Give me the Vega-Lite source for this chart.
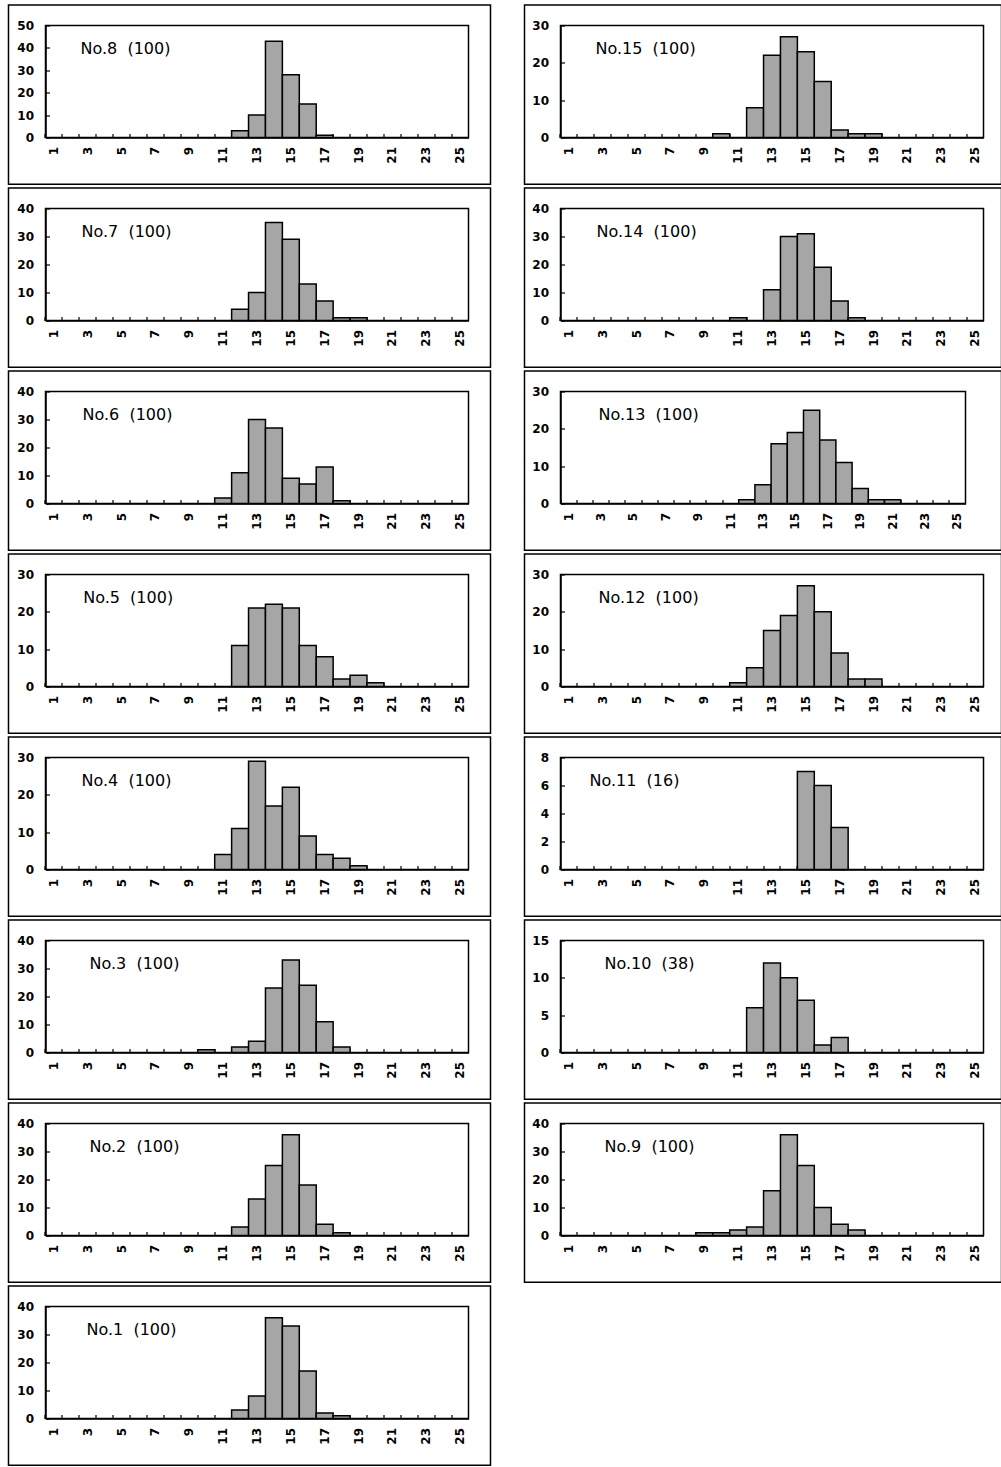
{
  "$schema": "https://vega.github.io/schema/vega-lite/v6.json",
  "padding": {"left": 6.5, "top": 3.5, "right": 0, "bottom": 0},
  "data": {"values": [
    {"p":"No.8","b":12,"n":3},{"p":"No.8","b":13,"n":10},{"p":"No.8","b":14,"n":43},{"p":"No.8","b":15,"n":28},{"p":"No.8","b":16,"n":15},{"p":"No.8","b":17,"n":1},
    {"p":"No.7","b":12,"n":4},{"p":"No.7","b":13,"n":10},{"p":"No.7","b":14,"n":35},{"p":"No.7","b":15,"n":29},{"p":"No.7","b":16,"n":13},{"p":"No.7","b":17,"n":7},{"p":"No.7","b":18,"n":1},{"p":"No.7","b":19,"n":1},
    {"p":"No.6","b":11,"n":2},{"p":"No.6","b":12,"n":11},{"p":"No.6","b":13,"n":30},{"p":"No.6","b":14,"n":27},{"p":"No.6","b":15,"n":9},{"p":"No.6","b":16,"n":7},{"p":"No.6","b":17,"n":13},{"p":"No.6","b":18,"n":1},
    {"p":"No.5","b":12,"n":11},{"p":"No.5","b":13,"n":21},{"p":"No.5","b":14,"n":22},{"p":"No.5","b":15,"n":21},{"p":"No.5","b":16,"n":11},{"p":"No.5","b":17,"n":8},{"p":"No.5","b":18,"n":2},{"p":"No.5","b":19,"n":3},{"p":"No.5","b":20,"n":1},
    {"p":"No.4","b":11,"n":4},{"p":"No.4","b":12,"n":11},{"p":"No.4","b":13,"n":29},{"p":"No.4","b":14,"n":17},{"p":"No.4","b":15,"n":22},{"p":"No.4","b":16,"n":9},{"p":"No.4","b":17,"n":4},{"p":"No.4","b":18,"n":3},{"p":"No.4","b":19,"n":1},
    {"p":"No.3","b":10,"n":1},{"p":"No.3","b":12,"n":2},{"p":"No.3","b":13,"n":4},{"p":"No.3","b":14,"n":23},{"p":"No.3","b":15,"n":33},{"p":"No.3","b":16,"n":24},{"p":"No.3","b":17,"n":11},{"p":"No.3","b":18,"n":2},
    {"p":"No.2","b":12,"n":3},{"p":"No.2","b":13,"n":13},{"p":"No.2","b":14,"n":25},{"p":"No.2","b":15,"n":36},{"p":"No.2","b":16,"n":18},{"p":"No.2","b":17,"n":4},{"p":"No.2","b":18,"n":1},
    {"p":"No.1","b":12,"n":3},{"p":"No.1","b":13,"n":8},{"p":"No.1","b":14,"n":36},{"p":"No.1","b":15,"n":33},{"p":"No.1","b":16,"n":17},{"p":"No.1","b":17,"n":2},{"p":"No.1","b":18,"n":1},
    {"p":"No.15","b":10,"n":1},{"p":"No.15","b":12,"n":8},{"p":"No.15","b":13,"n":22},{"p":"No.15","b":14,"n":27},{"p":"No.15","b":15,"n":23},{"p":"No.15","b":16,"n":15},{"p":"No.15","b":17,"n":2},{"p":"No.15","b":18,"n":1},{"p":"No.15","b":19,"n":1},
    {"p":"No.14","b":11,"n":1},{"p":"No.14","b":13,"n":11},{"p":"No.14","b":14,"n":30},{"p":"No.14","b":15,"n":31},{"p":"No.14","b":16,"n":19},{"p":"No.14","b":17,"n":7},{"p":"No.14","b":18,"n":1},
    {"p":"No.13","b":12,"n":1},{"p":"No.13","b":13,"n":5},{"p":"No.13","b":14,"n":16},{"p":"No.13","b":15,"n":19},{"p":"No.13","b":16,"n":25},{"p":"No.13","b":17,"n":17},{"p":"No.13","b":18,"n":11},{"p":"No.13","b":19,"n":4},{"p":"No.13","b":20,"n":1},{"p":"No.13","b":21,"n":1},
    {"p":"No.12","b":11,"n":1},{"p":"No.12","b":12,"n":5},{"p":"No.12","b":13,"n":15},{"p":"No.12","b":14,"n":19},{"p":"No.12","b":15,"n":27},{"p":"No.12","b":16,"n":20},{"p":"No.12","b":17,"n":9},{"p":"No.12","b":18,"n":2},{"p":"No.12","b":19,"n":2},
    {"p":"No.11","b":15,"n":7},{"p":"No.11","b":16,"n":6},{"p":"No.11","b":17,"n":3},
    {"p":"No.10","b":12,"n":6},{"p":"No.10","b":13,"n":12},{"p":"No.10","b":14,"n":10},{"p":"No.10","b":15,"n":7},{"p":"No.10","b":16,"n":1},{"p":"No.10","b":17,"n":2},
    {"p":"No.9","b":9,"n":1},{"p":"No.9","b":10,"n":1},{"p":"No.9","b":11,"n":2},{"p":"No.9","b":12,"n":3},{"p":"No.9","b":13,"n":16},{"p":"No.9","b":14,"n":36},{"p":"No.9","b":15,"n":25},{"p":"No.9","b":16,"n":10},{"p":"No.9","b":17,"n":4},{"p":"No.9","b":18,"n":2}
  ]},
  "spacing": 30,
  "hconcat": [
    {"spacing": 0, "vconcat": [
      {"width": 423, "height": 112, "resolve": {"scale": {"x": "independent", "y": "independent"}}, "layer": [
        {"transform": [{"filter": "datum.p === 'No.8'"}], "mark": {"type": "bar", "fill": "#a6a6a6", "stroke": "black", "strokeWidth": 1.5},
         "encoding": {"x": {"field": "b", "type": "ordinal", "title": null, "scale": {"domain": [1,2,3,4,5,6,7,8,9,10,11,12,13,14,15,16,17,18,19,20,21,22,23,24,25], "paddingInner": 0, "paddingOuter": 0}, "axis": {"bandPosition": 0, "labelExpr": "datum.value % 2 === 1 ? datum.label : ''"}},
                      "y": {"field": "n", "type": "quantitative", "title": null, "scale": {"domain": [0, 50], "nice": false}, "axis": {"values": [0,10,20,30,40,50]}}}},
        {"data": {"values": [{"label": "No.8\u00a0\u00a0(100)"}]}, "mark": {"type": "text", "align": "left", "baseline": "alphabetic", "dx": -7.3, "font": "DejaVu Sans", "fontSize": 16, "color": "black"},
         "encoding": {"x": {"datum": 3, "type": "ordinal", "scale": {"domain": [1,2,3,4,5,6,7,8,9,10,11,12,13,14,15,16,17,18,19,20,21,22,23,24,25], "paddingInner": 0, "paddingOuter": 0}, "axis": null},
                      "y": {"datum": 37.19, "type": "quantitative", "scale": {"domain": [0, 50], "nice": false}, "axis": null}, "text": {"field": "label"}}},
        {"data": {"values": [{}]}, "mark": {"type": "rect", "fill": "white", "fillOpacity": 0, "stroke": "black", "strokeWidth": 1.5, "clip": false},
         "encoding": {"x": {"datum": -0.0875, "type": "quantitative", "scale": {"domain": [0, 1], "nice": false, "zero": false}, "axis": null}, "x2": {"datum": 1.052},
                      "y": {"datum": 1.183, "type": "quantitative", "scale": {"domain": [0, 1], "nice": false, "zero": false}, "axis": null}, "y2": {"datum": -0.417}}}
      ]},
      {"width": 423, "height": 112, "resolve": {"scale": {"x": "independent", "y": "independent"}}, "layer": [
        {"transform": [{"filter": "datum.p === 'No.7'"}], "mark": {"type": "bar", "fill": "#a6a6a6", "stroke": "black", "strokeWidth": 1.5},
         "encoding": {"x": {"field": "b", "type": "ordinal", "title": null, "scale": {"domain": [1,2,3,4,5,6,7,8,9,10,11,12,13,14,15,16,17,18,19,20,21,22,23,24,25], "paddingInner": 0, "paddingOuter": 0}, "axis": {"bandPosition": 0, "labelExpr": "datum.value % 2 === 1 ? datum.label : ''"}},
                      "y": {"field": "n", "type": "quantitative", "title": null, "scale": {"domain": [0, 40], "nice": false}, "axis": {"values": [0,10,20,30,40]}}}},
        {"data": {"values": [{"label": "No.7\u00a0\u00a0(100)"}]}, "mark": {"type": "text", "align": "left", "baseline": "alphabetic", "dx": -6.3, "font": "DejaVu Sans", "fontSize": 16, "color": "black"},
         "encoding": {"x": {"datum": 3, "type": "ordinal", "scale": {"domain": [1,2,3,4,5,6,7,8,9,10,11,12,13,14,15,16,17,18,19,20,21,22,23,24,25], "paddingInner": 0, "paddingOuter": 0}, "axis": null},
                      "y": {"datum": 29.75, "type": "quantitative", "scale": {"domain": [0, 40], "nice": false}, "axis": null}, "text": {"field": "label"}}},
        {"data": {"values": [{}]}, "mark": {"type": "rect", "fill": "white", "fillOpacity": 0, "stroke": "black", "strokeWidth": 1.5, "clip": false},
         "encoding": {"x": {"datum": -0.0875, "type": "quantitative", "scale": {"domain": [0, 1], "nice": false, "zero": false}, "axis": null}, "x2": {"datum": 1.052},
                      "y": {"datum": 1.183, "type": "quantitative", "scale": {"domain": [0, 1], "nice": false, "zero": false}, "axis": null}, "y2": {"datum": -0.417}}}
      ]},
      {"width": 423, "height": 112, "resolve": {"scale": {"x": "independent", "y": "independent"}}, "layer": [
        {"transform": [{"filter": "datum.p === 'No.6'"}], "mark": {"type": "bar", "fill": "#a6a6a6", "stroke": "black", "strokeWidth": 1.5},
         "encoding": {"x": {"field": "b", "type": "ordinal", "title": null, "scale": {"domain": [1,2,3,4,5,6,7,8,9,10,11,12,13,14,15,16,17,18,19,20,21,22,23,24,25], "paddingInner": 0, "paddingOuter": 0}, "axis": {"bandPosition": 0, "labelExpr": "datum.value % 2 === 1 ? datum.label : ''"}},
                      "y": {"field": "n", "type": "quantitative", "title": null, "scale": {"domain": [0, 40], "nice": false}, "axis": {"values": [0,10,20,30,40]}}}},
        {"data": {"values": [{"label": "No.6\u00a0\u00a0(100)"}]}, "mark": {"type": "text", "align": "left", "baseline": "alphabetic", "dx": -5.3, "font": "DejaVu Sans", "fontSize": 16, "color": "black"},
         "encoding": {"x": {"datum": 3, "type": "ordinal", "scale": {"domain": [1,2,3,4,5,6,7,8,9,10,11,12,13,14,15,16,17,18,19,20,21,22,23,24,25], "paddingInner": 0, "paddingOuter": 0}, "axis": null},
                      "y": {"datum": 29.75, "type": "quantitative", "scale": {"domain": [0, 40], "nice": false}, "axis": null}, "text": {"field": "label"}}},
        {"data": {"values": [{}]}, "mark": {"type": "rect", "fill": "white", "fillOpacity": 0, "stroke": "black", "strokeWidth": 1.5, "clip": false},
         "encoding": {"x": {"datum": -0.0875, "type": "quantitative", "scale": {"domain": [0, 1], "nice": false, "zero": false}, "axis": null}, "x2": {"datum": 1.052},
                      "y": {"datum": 1.183, "type": "quantitative", "scale": {"domain": [0, 1], "nice": false, "zero": false}, "axis": null}, "y2": {"datum": -0.417}}}
      ]},
      {"width": 423, "height": 112, "resolve": {"scale": {"x": "independent", "y": "independent"}}, "layer": [
        {"transform": [{"filter": "datum.p === 'No.5'"}], "mark": {"type": "bar", "fill": "#a6a6a6", "stroke": "black", "strokeWidth": 1.5},
         "encoding": {"x": {"field": "b", "type": "ordinal", "title": null, "scale": {"domain": [1,2,3,4,5,6,7,8,9,10,11,12,13,14,15,16,17,18,19,20,21,22,23,24,25], "paddingInner": 0, "paddingOuter": 0}, "axis": {"bandPosition": 0, "labelExpr": "datum.value % 2 === 1 ? datum.label : ''"}},
                      "y": {"field": "n", "type": "quantitative", "title": null, "scale": {"domain": [0, 30], "nice": false}, "axis": {"values": [0,10,20,30]}}}},
        {"data": {"values": [{"label": "No.5\u00a0\u00a0(100)"}]}, "mark": {"type": "text", "align": "left", "baseline": "alphabetic", "dx": -4.6, "font": "DejaVu Sans", "fontSize": 16, "color": "black"},
         "encoding": {"x": {"datum": 3, "type": "ordinal", "scale": {"domain": [1,2,3,4,5,6,7,8,9,10,11,12,13,14,15,16,17,18,19,20,21,22,23,24,25], "paddingInner": 0, "paddingOuter": 0}, "axis": null},
                      "y": {"datum": 22.31, "type": "quantitative", "scale": {"domain": [0, 30], "nice": false}, "axis": null}, "text": {"field": "label"}}},
        {"data": {"values": [{}]}, "mark": {"type": "rect", "fill": "white", "fillOpacity": 0, "stroke": "black", "strokeWidth": 1.5, "clip": false},
         "encoding": {"x": {"datum": -0.0875, "type": "quantitative", "scale": {"domain": [0, 1], "nice": false, "zero": false}, "axis": null}, "x2": {"datum": 1.052},
                      "y": {"datum": 1.183, "type": "quantitative", "scale": {"domain": [0, 1], "nice": false, "zero": false}, "axis": null}, "y2": {"datum": -0.417}}}
      ]},
      {"width": 423, "height": 112, "resolve": {"scale": {"x": "independent", "y": "independent"}}, "layer": [
        {"transform": [{"filter": "datum.p === 'No.4'"}], "mark": {"type": "bar", "fill": "#a6a6a6", "stroke": "black", "strokeWidth": 1.5},
         "encoding": {"x": {"field": "b", "type": "ordinal", "title": null, "scale": {"domain": [1,2,3,4,5,6,7,8,9,10,11,12,13,14,15,16,17,18,19,20,21,22,23,24,25], "paddingInner": 0, "paddingOuter": 0}, "axis": {"bandPosition": 0, "labelExpr": "datum.value % 2 === 1 ? datum.label : ''"}},
                      "y": {"field": "n", "type": "quantitative", "title": null, "scale": {"domain": [0, 30], "nice": false}, "axis": {"values": [0,10,20,30]}}}},
        {"data": {"values": [{"label": "No.4\u00a0\u00a0(100)"}]}, "mark": {"type": "text", "align": "left", "baseline": "alphabetic", "dx": -6.3, "font": "DejaVu Sans", "fontSize": 16, "color": "black"},
         "encoding": {"x": {"datum": 3, "type": "ordinal", "scale": {"domain": [1,2,3,4,5,6,7,8,9,10,11,12,13,14,15,16,17,18,19,20,21,22,23,24,25], "paddingInner": 0, "paddingOuter": 0}, "axis": null},
                      "y": {"datum": 22.31, "type": "quantitative", "scale": {"domain": [0, 30], "nice": false}, "axis": null}, "text": {"field": "label"}}},
        {"data": {"values": [{}]}, "mark": {"type": "rect", "fill": "white", "fillOpacity": 0, "stroke": "black", "strokeWidth": 1.5, "clip": false},
         "encoding": {"x": {"datum": -0.0875, "type": "quantitative", "scale": {"domain": [0, 1], "nice": false, "zero": false}, "axis": null}, "x2": {"datum": 1.052},
                      "y": {"datum": 1.183, "type": "quantitative", "scale": {"domain": [0, 1], "nice": false, "zero": false}, "axis": null}, "y2": {"datum": -0.417}}}
      ]},
      {"width": 423, "height": 112, "resolve": {"scale": {"x": "independent", "y": "independent"}}, "layer": [
        {"transform": [{"filter": "datum.p === 'No.3'"}], "mark": {"type": "bar", "fill": "#a6a6a6", "stroke": "black", "strokeWidth": 1.5},
         "encoding": {"x": {"field": "b", "type": "ordinal", "title": null, "scale": {"domain": [1,2,3,4,5,6,7,8,9,10,11,12,13,14,15,16,17,18,19,20,21,22,23,24,25], "paddingInner": 0, "paddingOuter": 0}, "axis": {"bandPosition": 0, "labelExpr": "datum.value % 2 === 1 ? datum.label : ''"}},
                      "y": {"field": "n", "type": "quantitative", "title": null, "scale": {"domain": [0, 40], "nice": false}, "axis": {"values": [0,10,20,30,40]}}}},
        {"data": {"values": [{"label": "No.3\u00a0\u00a0(100)"}]}, "mark": {"type": "text", "align": "left", "baseline": "alphabetic", "dx": 1.7, "font": "DejaVu Sans", "fontSize": 16, "color": "black"},
         "encoding": {"x": {"datum": 3, "type": "ordinal", "scale": {"domain": [1,2,3,4,5,6,7,8,9,10,11,12,13,14,15,16,17,18,19,20,21,22,23,24,25], "paddingInner": 0, "paddingOuter": 0}, "axis": null},
                      "y": {"datum": 29.75, "type": "quantitative", "scale": {"domain": [0, 40], "nice": false}, "axis": null}, "text": {"field": "label"}}},
        {"data": {"values": [{}]}, "mark": {"type": "rect", "fill": "white", "fillOpacity": 0, "stroke": "black", "strokeWidth": 1.5, "clip": false},
         "encoding": {"x": {"datum": -0.0875, "type": "quantitative", "scale": {"domain": [0, 1], "nice": false, "zero": false}, "axis": null}, "x2": {"datum": 1.052},
                      "y": {"datum": 1.183, "type": "quantitative", "scale": {"domain": [0, 1], "nice": false, "zero": false}, "axis": null}, "y2": {"datum": -0.417}}}
      ]},
      {"width": 423, "height": 112, "resolve": {"scale": {"x": "independent", "y": "independent"}}, "layer": [
        {"transform": [{"filter": "datum.p === 'No.2'"}], "mark": {"type": "bar", "fill": "#a6a6a6", "stroke": "black", "strokeWidth": 1.5},
         "encoding": {"x": {"field": "b", "type": "ordinal", "title": null, "scale": {"domain": [1,2,3,4,5,6,7,8,9,10,11,12,13,14,15,16,17,18,19,20,21,22,23,24,25], "paddingInner": 0, "paddingOuter": 0}, "axis": {"bandPosition": 0, "labelExpr": "datum.value % 2 === 1 ? datum.label : ''"}},
                      "y": {"field": "n", "type": "quantitative", "title": null, "scale": {"domain": [0, 40], "nice": false}, "axis": {"values": [0,10,20,30,40]}}}},
        {"data": {"values": [{"label": "No.2\u00a0\u00a0(100)"}]}, "mark": {"type": "text", "align": "left", "baseline": "alphabetic", "dx": 1.7, "font": "DejaVu Sans", "fontSize": 16, "color": "black"},
         "encoding": {"x": {"datum": 3, "type": "ordinal", "scale": {"domain": [1,2,3,4,5,6,7,8,9,10,11,12,13,14,15,16,17,18,19,20,21,22,23,24,25], "paddingInner": 0, "paddingOuter": 0}, "axis": null},
                      "y": {"datum": 29.75, "type": "quantitative", "scale": {"domain": [0, 40], "nice": false}, "axis": null}, "text": {"field": "label"}}},
        {"data": {"values": [{}]}, "mark": {"type": "rect", "fill": "white", "fillOpacity": 0, "stroke": "black", "strokeWidth": 1.5, "clip": false},
         "encoding": {"x": {"datum": -0.0875, "type": "quantitative", "scale": {"domain": [0, 1], "nice": false, "zero": false}, "axis": null}, "x2": {"datum": 1.052},
                      "y": {"datum": 1.183, "type": "quantitative", "scale": {"domain": [0, 1], "nice": false, "zero": false}, "axis": null}, "y2": {"datum": -0.417}}}
      ]},
      {"width": 423, "height": 112, "resolve": {"scale": {"x": "independent", "y": "independent"}}, "layer": [
        {"transform": [{"filter": "datum.p === 'No.1'"}], "mark": {"type": "bar", "fill": "#a6a6a6", "stroke": "black", "strokeWidth": 1.5},
         "encoding": {"x": {"field": "b", "type": "ordinal", "title": null, "scale": {"domain": [1,2,3,4,5,6,7,8,9,10,11,12,13,14,15,16,17,18,19,20,21,22,23,24,25], "paddingInner": 0, "paddingOuter": 0}, "axis": {"bandPosition": 0, "labelExpr": "datum.value % 2 === 1 ? datum.label : ''"}},
                      "y": {"field": "n", "type": "quantitative", "title": null, "scale": {"domain": [0, 40], "nice": false}, "axis": {"values": [0,10,20,30,40]}}}},
        {"data": {"values": [{"label": "No.1\u00a0\u00a0(100)"}]}, "mark": {"type": "text", "align": "left", "baseline": "alphabetic", "dx": -1.3, "font": "DejaVu Sans", "fontSize": 16, "color": "black"},
         "encoding": {"x": {"datum": 3, "type": "ordinal", "scale": {"domain": [1,2,3,4,5,6,7,8,9,10,11,12,13,14,15,16,17,18,19,20,21,22,23,24,25], "paddingInner": 0, "paddingOuter": 0}, "axis": null},
                      "y": {"datum": 29.75, "type": "quantitative", "scale": {"domain": [0, 40], "nice": false}, "axis": null}, "text": {"field": "label"}}},
        {"data": {"values": [{}]}, "mark": {"type": "rect", "fill": "white", "fillOpacity": 0, "stroke": "black", "strokeWidth": 1.5, "clip": false},
         "encoding": {"x": {"datum": -0.0875, "type": "quantitative", "scale": {"domain": [0, 1], "nice": false, "zero": false}, "axis": null}, "x2": {"datum": 1.052},
                      "y": {"datum": 1.183, "type": "quantitative", "scale": {"domain": [0, 1], "nice": false, "zero": false}, "axis": null}, "y2": {"datum": -0.417}}}
      ]}
    ]},
    {"spacing": 0, "vconcat": [
      {"width": 423, "height": 112, "resolve": {"scale": {"x": "independent", "y": "independent"}}, "layer": [
        {"transform": [{"filter": "datum.p === 'No.15'"}], "mark": {"type": "bar", "fill": "#a6a6a6", "stroke": "black", "strokeWidth": 1.5},
         "encoding": {"x": {"field": "b", "type": "ordinal", "title": null, "scale": {"domain": [1,2,3,4,5,6,7,8,9,10,11,12,13,14,15,16,17,18,19,20,21,22,23,24,25], "paddingInner": 0, "paddingOuter": 0}, "axis": {"bandPosition": 0, "labelExpr": "datum.value % 2 === 1 ? datum.label : ''"}},
                      "y": {"field": "n", "type": "quantitative", "title": null, "scale": {"domain": [0, 30], "nice": false}, "axis": {"values": [0,10,20,30]}}}},
        {"data": {"values": [{"label": "No.15\u00a0\u00a0(100)"}]}, "mark": {"type": "text", "align": "left", "baseline": "alphabetic", "dx": -7.3, "font": "DejaVu Sans", "fontSize": 16, "color": "black"},
         "encoding": {"x": {"datum": 3, "type": "ordinal", "scale": {"domain": [1,2,3,4,5,6,7,8,9,10,11,12,13,14,15,16,17,18,19,20,21,22,23,24,25], "paddingInner": 0, "paddingOuter": 0}, "axis": null},
                      "y": {"datum": 22.31, "type": "quantitative", "scale": {"domain": [0, 30], "nice": false}, "axis": null}, "text": {"field": "label"}}},
        {"data": {"values": [{}]}, "mark": {"type": "rect", "fill": "white", "fillOpacity": 0, "stroke": "black", "strokeWidth": 1.5, "clip": false},
         "encoding": {"x": {"datum": -0.0851, "type": "quantitative", "scale": {"domain": [0, 1], "nice": false, "zero": false}, "axis": null}, "x2": {"datum": 1.0426},
                      "y": {"datum": 1.183, "type": "quantitative", "scale": {"domain": [0, 1], "nice": false, "zero": false}, "axis": null}, "y2": {"datum": -0.417}}}
      ]},
      {"width": 423, "height": 112, "resolve": {"scale": {"x": "independent", "y": "independent"}}, "layer": [
        {"transform": [{"filter": "datum.p === 'No.14'"}], "mark": {"type": "bar", "fill": "#a6a6a6", "stroke": "black", "strokeWidth": 1.5},
         "encoding": {"x": {"field": "b", "type": "ordinal", "title": null, "scale": {"domain": [1,2,3,4,5,6,7,8,9,10,11,12,13,14,15,16,17,18,19,20,21,22,23,24,25], "paddingInner": 0, "paddingOuter": 0}, "axis": {"bandPosition": 0, "labelExpr": "datum.value % 2 === 1 ? datum.label : ''"}},
                      "y": {"field": "n", "type": "quantitative", "title": null, "scale": {"domain": [0, 40], "nice": false}, "axis": {"values": [0,10,20,30,40]}}}},
        {"data": {"values": [{"label": "No.14\u00a0\u00a0(100)"}]}, "mark": {"type": "text", "align": "left", "baseline": "alphabetic", "dx": -6.3, "font": "DejaVu Sans", "fontSize": 16, "color": "black"},
         "encoding": {"x": {"datum": 3, "type": "ordinal", "scale": {"domain": [1,2,3,4,5,6,7,8,9,10,11,12,13,14,15,16,17,18,19,20,21,22,23,24,25], "paddingInner": 0, "paddingOuter": 0}, "axis": null},
                      "y": {"datum": 29.75, "type": "quantitative", "scale": {"domain": [0, 40], "nice": false}, "axis": null}, "text": {"field": "label"}}},
        {"data": {"values": [{}]}, "mark": {"type": "rect", "fill": "white", "fillOpacity": 0, "stroke": "black", "strokeWidth": 1.5, "clip": false},
         "encoding": {"x": {"datum": -0.0851, "type": "quantitative", "scale": {"domain": [0, 1], "nice": false, "zero": false}, "axis": null}, "x2": {"datum": 1.0426},
                      "y": {"datum": 1.183, "type": "quantitative", "scale": {"domain": [0, 1], "nice": false, "zero": false}, "axis": null}, "y2": {"datum": -0.417}}}
      ]},
      {"width": 405, "height": 112, "resolve": {"scale": {"x": "independent", "y": "independent"}}, "layer": [
        {"transform": [{"filter": "datum.p === 'No.13'"}], "mark": {"type": "bar", "fill": "#a6a6a6", "stroke": "black", "strokeWidth": 1.5},
         "encoding": {"x": {"field": "b", "type": "ordinal", "title": null, "scale": {"domain": [1,2,3,4,5,6,7,8,9,10,11,12,13,14,15,16,17,18,19,20,21,22,23,24,25], "paddingInner": 0, "paddingOuter": 0}, "axis": {"bandPosition": 0, "labelExpr": "datum.value % 2 === 1 ? datum.label : ''"}},
                      "y": {"field": "n", "type": "quantitative", "title": null, "scale": {"domain": [0, 30], "nice": false}, "axis": {"values": [0,10,20,30]}}}},
        {"data": {"values": [{"label": "No.13\u00a0\u00a0(100)"}]}, "mark": {"type": "text", "align": "left", "baseline": "alphabetic", "dx": -2.5, "font": "DejaVu Sans", "fontSize": 16, "color": "black"},
         "encoding": {"x": {"datum": 3, "type": "ordinal", "scale": {"domain": [1,2,3,4,5,6,7,8,9,10,11,12,13,14,15,16,17,18,19,20,21,22,23,24,25], "paddingInner": 0, "paddingOuter": 0}, "axis": null},
                      "y": {"datum": 22.31, "type": "quantitative", "scale": {"domain": [0, 30], "nice": false}, "axis": null}, "text": {"field": "label"}}},
        {"data": {"values": [{}]}, "mark": {"type": "rect", "fill": "white", "fillOpacity": 0, "stroke": "black", "strokeWidth": 1.5, "clip": false},
         "encoding": {"x": {"datum": -0.0889, "type": "quantitative", "scale": {"domain": [0, 1], "nice": false, "zero": false}, "axis": null}, "x2": {"datum": 1.0889},
                      "y": {"datum": 1.183, "type": "quantitative", "scale": {"domain": [0, 1], "nice": false, "zero": false}, "axis": null}, "y2": {"datum": -0.417}}}
      ]},
      {"width": 423, "height": 112, "resolve": {"scale": {"x": "independent", "y": "independent"}}, "layer": [
        {"transform": [{"filter": "datum.p === 'No.12'"}], "mark": {"type": "bar", "fill": "#a6a6a6", "stroke": "black", "strokeWidth": 1.5},
         "encoding": {"x": {"field": "b", "type": "ordinal", "title": null, "scale": {"domain": [1,2,3,4,5,6,7,8,9,10,11,12,13,14,15,16,17,18,19,20,21,22,23,24,25], "paddingInner": 0, "paddingOuter": 0}, "axis": {"bandPosition": 0, "labelExpr": "datum.value % 2 === 1 ? datum.label : ''"}},
                      "y": {"field": "n", "type": "quantitative", "title": null, "scale": {"domain": [0, 30], "nice": false}, "axis": {"values": [0,10,20,30]}}}},
        {"data": {"values": [{"label": "No.12\u00a0\u00a0(100)"}]}, "mark": {"type": "text", "align": "left", "baseline": "alphabetic", "dx": -4.3, "font": "DejaVu Sans", "fontSize": 16, "color": "black"},
         "encoding": {"x": {"datum": 3, "type": "ordinal", "scale": {"domain": [1,2,3,4,5,6,7,8,9,10,11,12,13,14,15,16,17,18,19,20,21,22,23,24,25], "paddingInner": 0, "paddingOuter": 0}, "axis": null},
                      "y": {"datum": 22.31, "type": "quantitative", "scale": {"domain": [0, 30], "nice": false}, "axis": null}, "text": {"field": "label"}}},
        {"data": {"values": [{}]}, "mark": {"type": "rect", "fill": "white", "fillOpacity": 0, "stroke": "black", "strokeWidth": 1.5, "clip": false},
         "encoding": {"x": {"datum": -0.0851, "type": "quantitative", "scale": {"domain": [0, 1], "nice": false, "zero": false}, "axis": null}, "x2": {"datum": 1.0426},
                      "y": {"datum": 1.183, "type": "quantitative", "scale": {"domain": [0, 1], "nice": false, "zero": false}, "axis": null}, "y2": {"datum": -0.417}}}
      ]},
      {"width": 423, "height": 112, "resolve": {"scale": {"x": "independent", "y": "independent"}}, "layer": [
        {"transform": [{"filter": "datum.p === 'No.11'"}], "mark": {"type": "bar", "fill": "#a6a6a6", "stroke": "black", "strokeWidth": 1.5},
         "encoding": {"x": {"field": "b", "type": "ordinal", "title": null, "scale": {"domain": [1,2,3,4,5,6,7,8,9,10,11,12,13,14,15,16,17,18,19,20,21,22,23,24,25], "paddingInner": 0, "paddingOuter": 0}, "axis": {"bandPosition": 0, "labelExpr": "datum.value % 2 === 1 ? datum.label : ''"}},
                      "y": {"field": "n", "type": "quantitative", "title": null, "scale": {"domain": [0, 8], "nice": false}, "axis": {"values": [0,2,4,6,8]}}}},
        {"data": {"values": [{"label": "No.11\u00a0\u00a0(16)"}]}, "mark": {"type": "text", "align": "left", "baseline": "alphabetic", "dx": -13.3, "font": "DejaVu Sans", "fontSize": 16, "color": "black"},
         "encoding": {"x": {"datum": 3, "type": "ordinal", "scale": {"domain": [1,2,3,4,5,6,7,8,9,10,11,12,13,14,15,16,17,18,19,20,21,22,23,24,25], "paddingInner": 0, "paddingOuter": 0}, "axis": null},
                      "y": {"datum": 5.95, "type": "quantitative", "scale": {"domain": [0, 8], "nice": false}, "axis": null}, "text": {"field": "label"}}},
        {"data": {"values": [{}]}, "mark": {"type": "rect", "fill": "white", "fillOpacity": 0, "stroke": "black", "strokeWidth": 1.5, "clip": false},
         "encoding": {"x": {"datum": -0.0851, "type": "quantitative", "scale": {"domain": [0, 1], "nice": false, "zero": false}, "axis": null}, "x2": {"datum": 1.0426},
                      "y": {"datum": 1.183, "type": "quantitative", "scale": {"domain": [0, 1], "nice": false, "zero": false}, "axis": null}, "y2": {"datum": -0.417}}}
      ]},
      {"width": 423, "height": 112, "resolve": {"scale": {"x": "independent", "y": "independent"}}, "layer": [
        {"transform": [{"filter": "datum.p === 'No.10'"}], "mark": {"type": "bar", "fill": "#a6a6a6", "stroke": "black", "strokeWidth": 1.5},
         "encoding": {"x": {"field": "b", "type": "ordinal", "title": null, "scale": {"domain": [1,2,3,4,5,6,7,8,9,10,11,12,13,14,15,16,17,18,19,20,21,22,23,24,25], "paddingInner": 0, "paddingOuter": 0}, "axis": {"bandPosition": 0, "labelExpr": "datum.value % 2 === 1 ? datum.label : ''"}},
                      "y": {"field": "n", "type": "quantitative", "title": null, "scale": {"domain": [0, 15], "nice": false}, "axis": {"values": [0,5,10,15]}}}},
        {"data": {"values": [{"label": "No.10\u00a0\u00a0(38)"}]}, "mark": {"type": "text", "align": "left", "baseline": "alphabetic", "dx": 1.7, "font": "DejaVu Sans", "fontSize": 16, "color": "black"},
         "encoding": {"x": {"datum": 3, "type": "ordinal", "scale": {"domain": [1,2,3,4,5,6,7,8,9,10,11,12,13,14,15,16,17,18,19,20,21,22,23,24,25], "paddingInner": 0, "paddingOuter": 0}, "axis": null},
                      "y": {"datum": 11.16, "type": "quantitative", "scale": {"domain": [0, 15], "nice": false}, "axis": null}, "text": {"field": "label"}}},
        {"data": {"values": [{}]}, "mark": {"type": "rect", "fill": "white", "fillOpacity": 0, "stroke": "black", "strokeWidth": 1.5, "clip": false},
         "encoding": {"x": {"datum": -0.0851, "type": "quantitative", "scale": {"domain": [0, 1], "nice": false, "zero": false}, "axis": null}, "x2": {"datum": 1.0426},
                      "y": {"datum": 1.183, "type": "quantitative", "scale": {"domain": [0, 1], "nice": false, "zero": false}, "axis": null}, "y2": {"datum": -0.417}}}
      ]},
      {"width": 423, "height": 112, "resolve": {"scale": {"x": "independent", "y": "independent"}}, "layer": [
        {"transform": [{"filter": "datum.p === 'No.9'"}], "mark": {"type": "bar", "fill": "#a6a6a6", "stroke": "black", "strokeWidth": 1.5},
         "encoding": {"x": {"field": "b", "type": "ordinal", "title": null, "scale": {"domain": [1,2,3,4,5,6,7,8,9,10,11,12,13,14,15,16,17,18,19,20,21,22,23,24,25], "paddingInner": 0, "paddingOuter": 0}, "axis": {"bandPosition": 0, "labelExpr": "datum.value % 2 === 1 ? datum.label : ''"}},
                      "y": {"field": "n", "type": "quantitative", "title": null, "scale": {"domain": [0, 40], "nice": false}, "axis": {"values": [0,10,20,30,40]}}}},
        {"data": {"values": [{"label": "No.9\u00a0\u00a0(100)"}]}, "mark": {"type": "text", "align": "left", "baseline": "alphabetic", "dx": 1.7, "font": "DejaVu Sans", "fontSize": 16, "color": "black"},
         "encoding": {"x": {"datum": 3, "type": "ordinal", "scale": {"domain": [1,2,3,4,5,6,7,8,9,10,11,12,13,14,15,16,17,18,19,20,21,22,23,24,25], "paddingInner": 0, "paddingOuter": 0}, "axis": null},
                      "y": {"datum": 29.75, "type": "quantitative", "scale": {"domain": [0, 40], "nice": false}, "axis": null}, "text": {"field": "label"}}},
        {"data": {"values": [{}]}, "mark": {"type": "rect", "fill": "white", "fillOpacity": 0, "stroke": "black", "strokeWidth": 1.5, "clip": false},
         "encoding": {"x": {"datum": -0.0851, "type": "quantitative", "scale": {"domain": [0, 1], "nice": false, "zero": false}, "axis": null}, "x2": {"datum": 1.0426},
                      "y": {"datum": 1.183, "type": "quantitative", "scale": {"domain": [0, 1], "nice": false, "zero": false}, "axis": null}, "y2": {"datum": -0.417}}}
      ]}
    ]}
  ],
  "config": {
    "view": {"stroke": "black", "strokeWidth": 1.5},
    "axis": {"domainColor": "black", "domainWidth": 1.5, "tickColor": "black", "tickWidth": 1.2, "tickSize": -4, "labelFont": "DejaVu Sans", "labelFontSize": 12, "labelFontWeight": "bold", "labelColor": "black", "grid": false},
    "axisX": {"labelAngle": 270, "labelPadding": 13, "labelOverlap": false},
    "axisY": {"labelPadding": 16}
  }
}
